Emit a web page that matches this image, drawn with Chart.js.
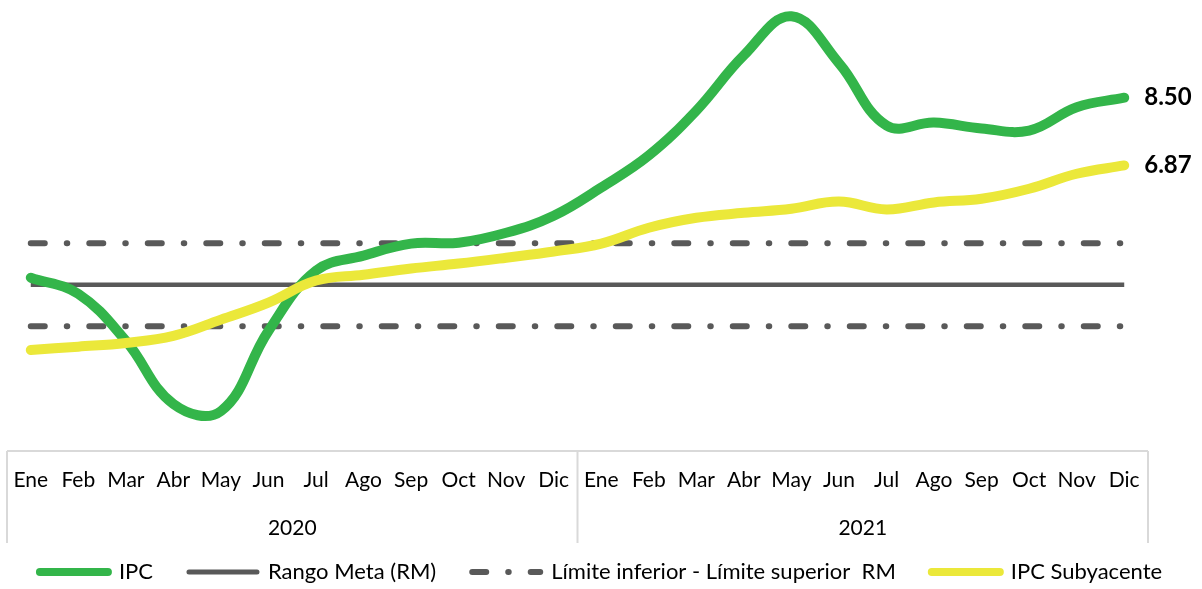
<!DOCTYPE html>
<html lang="es">
<head>
<meta charset="utf-8">
<script src="https://cdn.jsdelivr.net/npm/chart.js@4.4.0/dist/chart.umd.min.js"></script>
<style>
  html, body { margin: 0; padding: 0; background: #fff; }
  #wrap { width: 1202px; height: 589px; position: relative; }
</style>
</head>
<body>
<div id="wrap"><canvas id="chart"></canvas></div>
<script>
const meses = ['Ene', 'Feb', 'Mar', 'Abr', 'May', 'Jun', 'Jul', 'Ago', 'Sep', 'Oct', 'Nov', 'Dic',
               'Ene', 'Feb', 'Mar', 'Abr', 'May', 'Jun', 'Jul', 'Ago', 'Sep', 'Oct', 'Nov', 'Dic'];
const anios = ['2020', '2021'];

const ipc = [4.17, 3.78, 2.65, 1.13, 0.96, 2.89, 4.34, 4.70, 4.99, 5.01, 5.25, 5.66,
             6.34, 7.11, 8.19, 9.52, 10.46, 9.33, 7.83, 7.90, 7.76, 7.71, 8.27, 8.50];
const ipcSubyacente = [2.43, 2.51, 2.60, 2.77, 3.16, 3.57, 4.10, 4.24, 4.39, 4.51, 4.65, 4.80,
                       4.99, 5.37, 5.61, 5.73, 5.83, 6.00, 5.81, 5.98, 6.07, 6.31, 6.67, 6.87];
const rangoMeta = [4, 4, 4, 4, 4, 4, 4, 4, 4, 4, 4, 4, 4, 4, 4, 4, 4, 4, 4, 4, 4, 4, 4, 4];
const limiteSuperior = [5, 5, 5, 5, 5, 5, 5, 5, 5, 5, 5, 5, 5, 5, 5, 5, 5, 5, 5, 5, 5, 5, 5, 5];
const limiteInferior = [3, 3, 3, 3, 3, 3, 3, 3, 3, 3, 3, 3, 3, 3, 3, 3, 3, 3, 3, 3, 3, 3, 3, 3];

const verde = '#33b54a';
const amarillo = '#ebe83a';
const gris = '#595959';
const guionPunto = [14, 22, 0.5, 22];

Chart.defaults.font.family = 'Lato';
Chart.defaults.color = '#000';

// lineas de la tabla del eje x (borde superior y separadores de anio)
const tablaEje = {
    id: 'tablaEje',
    afterDraw(chart) {
        const ctx = chart.ctx;
        const x = chart.scales.x;
        const x2 = chart.scales.x2;
        const arriba = chart.chartArea.bottom;
        const fondo = x2.bottom + 18;
        const medio = (x.getPixelForValue(11) + x.getPixelForValue(12)) / 2;
        ctx.save();
        ctx.strokeStyle = '#d9d9d9';
        ctx.lineWidth = 2;
        ctx.beginPath();
        ctx.moveTo(x.left, arriba);
        ctx.lineTo(x.right, arriba);
        [x.left, medio, x.right].forEach(px => {
            ctx.moveTo(px, arriba);
            ctx.lineTo(px, fondo);
        });
        ctx.stroke();
        ctx.restore();
    }
};

// valor del ultimo mes a la derecha de cada serie
const etiquetasFinales = {
    id: 'etiquetasFinales',
    afterDatasetsDraw(chart) {
        const ctx = chart.ctx;
        ctx.save();
        ctx.font = 'bold 24px Lato';
        ctx.fillStyle = '#000';
        ctx.textBaseline = 'middle';
        chart.data.datasets.forEach((ds, i) => {
            if (!ds.etiquetaFinal) return;
            const meta = chart.getDatasetMeta(i);
            const pt = meta.data[meta.data.length - 1];
            const val = ds.data[ds.data.length - 1];
            ctx.fillText(val.toFixed(2), pt.x + 20, pt.y);
        });
        ctx.restore();
    }
};

const ctx = document.getElementById('chart').getContext('2d');
new Chart(ctx, {
    type: 'line',
    data: {
        labels: meses,
        datasets: [
            {
                label: 'IPC Subyacente',
                data: ipcSubyacente,
                borderColor: amarillo,
                borderWidth: 10,
                tension: 0.4,
                etiquetaFinal: true
            },
            {
                label: 'IPC',
                data: ipc,
                borderColor: verde,
                borderWidth: 10,
                tension: 0.4,
                etiquetaFinal: true
            },
            {
                label: 'Rango Meta (RM)',
                data: rangoMeta,
                borderColor: gris,
                borderWidth: 4.5,
                borderCapStyle: 'butt'
            },
            {
                label: 'Límite superior RM',
                data: limiteSuperior,
                borderColor: gris,
                borderWidth: 6,
                borderDash: guionPunto
            },
            {
                label: 'Límite inferior RM',
                data: limiteInferior,
                borderColor: gris,
                borderWidth: 6,
                borderDash: guionPunto
            }
        ]
    },
    options: {
        responsive: true,
        maintainAspectRatio: false,
        animation: false,
        datasets: {
            line: {
                pointRadius: 0,
                pointHoverRadius: 0,
                fill: false,
                borderCapStyle: 'round',
                borderJoinStyle: 'round'
            }
        },
        layout: {
            padding: { left: 0, right: 0, top: 0, bottom: -4 }
        },
        plugins: {
            tooltip: { enabled: false },
            legend: {
                position: 'bottom',
                labels: {
                    usePointStyle: true,
                    pointStyleWidth: 68,
                    padding: 36,
                    color: '#000',
                    font: { size: 22 },
                    generateLabels: () => [
                        { text: 'IPC', strokeStyle: verde, fillStyle: verde, lineWidth: 8, lineCap: 'round', pointStyle: 'line', datasetIndex: 1 },
                        { text: 'Rango Meta (RM)', strokeStyle: gris, fillStyle: gris, lineWidth: 5, lineCap: 'round', pointStyle: 'line', datasetIndex: 2 },
                        { text: 'Límite inferior - Límite superior  RM', strokeStyle: gris, fillStyle: gris, lineWidth: 6, lineCap: 'round', lineDash: guionPunto, pointStyle: 'line', datasetIndex: 3 },
                        { text: 'IPC Subyacente', strokeStyle: amarillo, fillStyle: amarillo, lineWidth: 8, lineCap: 'round', pointStyle: 'line', datasetIndex: 0 }
                    ]
                }
            }
        },
        scales: {
            y: {
                display: true,
                min: 0,
                max: 10.85,
                grid: { display: false, drawTicks: false },
                border: { display: false },
                ticks: { display: false },
                afterFit: (scale) => { scale.width = 7; }
            },
            yDer: {
                type: 'linear',
                axis: 'y',
                position: 'right',
                display: true,
                min: 0,
                max: 10.85,
                grid: { display: false, drawTicks: false },
                border: { display: false },
                ticks: { display: false },
                afterFit: (scale) => { scale.width = 54; }
            },
            x: {
                offset: true,
                weight: 0,
                grid: { display: false, drawTicks: false },
                border: { display: false },
                ticks: {
                    autoSkip: false,
                    maxRotation: 0,
                    padding: 17,
                    color: '#000',
                    font: { size: 21 }
                },
                afterFit: (scale) => {
                    scale.height = 53;
                    scale.paddingLeft = 0;
                    scale.paddingRight = 0;
                }
            },
            x2: {
                type: 'category',
                axis: 'x',
                display: true,
                weight: 1,
                labels: anios,
                position: 'bottom',
                offset: true,
                grid: { display: false, drawTicks: false },
                border: { display: false },
                ticks: {
                    autoSkip: false,
                    maxRotation: 0,
                    mirror: true, // evita el recorte de la etiqueta en esta franja baja
                    padding: -36.6,
                    color: '#000',
                    font: { size: 21 }
                },
                afterFit: (scale) => {
                    scale.height = 21;
                    scale.paddingLeft = 0;
                    scale.paddingRight = 0;
                }
            }
        }
    },
    plugins: [tablaEje, etiquetasFinales]
});
</script>
</body>
</html>
